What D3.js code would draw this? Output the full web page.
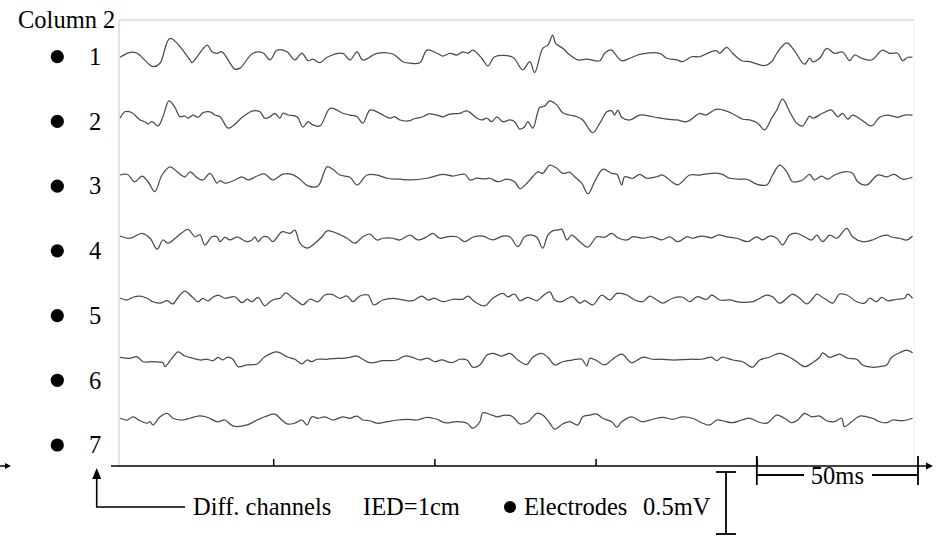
<!DOCTYPE html>
<html><head><meta charset="utf-8">
<script src="https://cdn.jsdelivr.net/npm/d3@7"></script>
<style>html,body{margin:0;padding:0;background:#fff}svg{display:block}text{font-family:"Liberation Serif","Times New Roman",serif;fill:#000}</style>
</head><body>
<svg id="chart" width="940" height="536"></svg>
<script>
// ---------- DATA ----------
const title = "Column 2";
const channels = [1, 2, 3, 4, 5, 6, 7];
const electrodes = [1, 2, 3, 4, 5, 6, 7];
const timeTicks = [50, 100, 150, 200];      // ms
const timeDomain = [0, 250];                // ms
const scaleBarTime = [200, 250];            // 50 ms
const scaleBarAmp = 500;                    // µV (0.5 mV)
const legendTexts = ["Diff. channels", "IED=1cm", "Electrodes", "0.5mV", "50ms"];
// each trace: [time ms, amplitude µV]
const trace1 = [[2.5,-2],[5.6,38],[7.8,30],[12.7,-78],[14.9,-50],[18.0,150],[24.2,-24],[24.8,-46],[29.5,96],[31.0,42],[32.6,30],[34.1,42],[38.1,-98],[39.7,-90],[43.7,30],[46.8,34],[49.0,-24],[51.2,56],[54.3,42],[56.7,-24],[58.9,32],[60.8,-30],[62.3,-18],[64.5,-46],[66.7,-2],[71.6,30],[73.8,-24],[76.0,42],[77.8,-24],[82.2,30],[87.1,24],[90.2,-38],[92.4,-50],[95.5,-46],[97.7,56],[100.8,30],[102.6,8],[104.8,30],[107.0,16],[108.8,42],[110.4,30],[111.9,56],[114.7,-10],[116.6,-72],[118.7,2],[124.3,-2],[127.4,-104],[129.6,-38],[131.1,-126],[133.6,70],[135.2,96],[136.7,176],[137.6,110],[139.8,70],[142.0,16],[144.5,-24],[147.3,-18],[151.3,-30],[152.8,30],[155.0,56],[155.9,30],[158.1,-30],[160.6,-10],[163.7,22],[169.9,30],[172.1,-10],[175.2,-24],[177.0,-38],[179.8,2],[182.3,2],[185.4,38],[187.6,50],[188.5,30],[190.7,78],[192.5,30],[195.3,-30],[197.8,-38],[200.0,-56],[202.4,-70],[204.6,-38],[206.5,42],[209.3,114],[211.7,50],[214.8,-58],[216.4,-10],[217.3,-38],[219.5,-10],[221.7,70],[224.1,30],[226.6,40],[228.8,-30],[230.3,16],[232.5,-10],[235.6,-24],[239.0,56],[241.2,30],[243.7,30],[245.2,-30],[246.8,-2],[248.3,-2]];
const trace2 = [[2.5,-6],[4.0,46],[6.2,38],[8.7,-20],[10.2,-34],[11.2,-52],[12.4,-34],[14.3,-68],[15.8,6],[17.7,134],[19.5,82],[21.1,6],[22.6,12],[23.6,-6],[25.1,20],[26.7,2],[28.2,38],[30.4,46],[31.9,20],[33.5,6],[36.0,-86],[37.5,-68],[40.6,6],[43.7,54],[45.9,46],[47.4,-6],[49.0,6],[50.5,34],[52.1,-6],[53.0,34],[54.6,20],[57.4,6],[59.2,-78],[60.8,-34],[62.3,-60],[64.5,-68],[67.6,74],[69.8,60],[71.6,34],[73.8,20],[76.0,6],[77.8,-46],[80.0,60],[82.2,46],[84.0,20],[86.2,-6],[87.7,6],[89.3,-20],[92.4,-26],[93.3,-14],[96.4,6],[98.0,28],[100.8,20],[102.6,6],[104.8,28],[107.9,34],[110.1,54],[113.2,-6],[114.7,-20],[116.3,-6],[117.8,-34],[119.4,6],[121.2,-34],[123.4,-20],[124.9,-34],[126.5,-94],[128.0,-74],[129.0,-34],[130.5,-86],[132.7,82],[134.2,92],[135.8,134],[138.0,100],[139.8,38],[142.0,20],[144.2,6],[146.0,-20],[149.1,-122],[151.3,-46],[153.5,46],[155.0,54],[155.9,20],[156.9,60],[158.1,2],[160.6,-20],[163.7,20],[167.7,6],[172.1,-14],[175.2,-20],[178.3,-34],[180.7,6],[182.3,34],[184.2,20],[187.3,66],[190.4,54],[193.2,20],[195.7,-14],[197.8,-20],[200.3,-46],[202.4,-100],[204.6,-6],[206.2,60],[208.0,148],[210.2,46],[212.4,-46],[214.2,-68],[216.4,12],[217.3,-6],[220.4,34],[223.2,60],[225.1,6],[226.6,34],[228.2,-14],[229.7,20],[232.5,-20],[235.6,-68],[238.1,2],[240.6,20],[243.7,2],[245.8,20],[248.3,20]];
const trace3 = [[2.5,24],[4.7,30],[7.1,-30],[9.3,16],[11.2,-30],[13.3,-110],[15.5,24],[18.0,90],[20.2,50],[22.6,10],[24.2,50],[26.4,2],[28.2,-16],[30.4,38],[32.6,-42],[33.5,-22],[35.0,-42],[38.1,-16],[40.3,10],[42.2,-16],[45.0,16],[47.4,32],[49.9,-16],[53.0,32],[55.8,30],[58.3,-10],[60.8,-64],[63.9,-64],[66.7,90],[68.5,70],[70.7,24],[73.8,6],[76.0,-56],[79.1,24],[82.2,24],[85.3,-2],[89.3,-10],[92.4,-16],[97.7,-2],[102.6,30],[105.7,16],[109.4,30],[111.0,-16],[113.2,-2],[115.6,-8],[117.2,-2],[119.7,-30],[122.5,-10],[124.9,-30],[126.5,-86],[128.7,-42],[130.5,10],[132.1,50],[133.6,38],[135.8,104],[138.0,78],[139.8,38],[142.0,46],[143.5,10],[145.7,-42],[147.6,-128],[149.7,-30],[152.2,70],[155.0,38],[156.6,30],[158.1,-56],[159.0,10],[161.5,-2],[163.7,30],[165.9,-2],[169.0,10],[170.8,24],[173.6,-30],[175.5,-56],[179.2,24],[182.3,24],[186.0,38],[189.1,32],[191.6,-2],[194.7,-10],[196.9,-10],[200.0,-50],[203.1,-56],[204.9,24],[207.1,104],[209.3,50],[211.1,-30],[214.2,-16],[216.4,30],[217.9,-16],[220.1,16],[222.0,-10],[224.1,24],[227.2,50],[229.7,38],[231.3,-30],[234.1,-56],[237.5,24],[240.3,10],[242.7,30],[245.2,-10],[248.3,6]];
const trace4 = [[2.5,20],[5.6,2],[9.3,42],[11.8,2],[14.0,-86],[15.8,-12],[17.4,-38],[20.2,14],[23.6,74],[25.7,14],[27.3,28],[28.8,-52],[31.0,14],[32.6,14],[33.5,-26],[35.0,10],[36.6,-12],[38.8,14],[40.3,-6],[41.9,-26],[43.4,-12],[44.3,14],[45.3,-26],[46.8,14],[48.4,10],[49.9,-26],[52.7,54],[55.2,42],[56.7,68],[58.3,-38],[60.5,-78],[62.3,-52],[65.1,14],[66.7,62],[69.8,42],[72.9,2],[75.3,-38],[77.8,14],[80.0,36],[82.2,-12],[84.0,2],[87.1,2],[89.3,-12],[92.4,28],[94.9,-12],[97.7,14],[99.5,42],[101.7,2],[103.9,14],[107.0,14],[109.4,-26],[111.9,10],[115.0,20],[118.1,-12],[121.2,20],[123.4,14],[125.9,-66],[128.0,14],[130.2,28],[131.8,10],[133.6,-78],[135.2,28],[136.7,62],[138.3,68],[139.5,74],[141.1,-12],[142.6,28],[145.1,-26],[147.6,-70],[150.4,14],[152.8,10],[155.0,42],[156.9,6],[159.7,-12],[161.5,14],[164.6,2],[167.7,14],[170.5,-12],[173.0,14],[175.5,-26],[178.3,14],[180.1,2],[182.9,20],[186.0,6],[187.9,28],[190.7,14],[193.8,2],[197.2,-26],[200.0,14],[201.8,-12],[204.0,20],[206.2,2],[208.0,-52],[210.2,28],[212.4,42],[214.8,14],[217.0,-12],[218.6,28],[220.4,-26],[222.6,28],[224.8,2],[227.9,82],[229.7,14],[232.8,-26],[235.9,-12],[238.1,14],[240.3,28],[242.1,10],[244.3,2],[246.5,-12],[248.3,20]];
const trace5 = [[2.5,6],[4.7,-8],[6.5,14],[8.7,24],[10.9,6],[12.7,-22],[14.9,-34],[17.1,-14],[18.9,-40],[20.5,14],[22.6,64],[24.8,18],[26.7,-22],[28.2,6],[29.8,-16],[31.3,14],[32.9,32],[35.0,6],[38.1,18],[40.3,-30],[41.9,-2],[43.4,-22],[45.3,14],[47.4,-56],[49.0,-22],[50.5,-2],[52.1,6],[53.9,50],[55.8,14],[57.7,-22],[59.2,-48],[61.4,-2],[63.9,-22],[66.0,32],[68.2,38],[70.7,6],[72.9,24],[74.7,-22],[76.9,24],[79.4,32],[81.2,-48],[84.0,-8],[87.1,6],[90.2,-8],[93.3,-14],[96.1,24],[98.0,-8],[100.1,6],[102.6,-22],[105.7,-2],[108.8,-2],[110.4,24],[112.5,-22],[115.6,-56],[118.1,6],[121.2,46],[122.8,18],[124.9,40],[126.5,-14],[129.0,14],[131.8,-14],[133.6,24],[135.8,58],[137.3,-8],[139.5,-22],[141.4,6],[142.9,18],[145.1,-34],[146.6,-14],[149.1,-48],[151.9,32],[154.4,-8],[156.6,46],[159.7,32],[162.1,-8],[164.6,-22],[166.8,24],[169.0,-8],[170.8,-34],[173.9,6],[177.0,14],[179.2,-22],[181.4,18],[184.5,-2],[186.0,32],[188.5,-8],[191.6,-8],[194.7,-26],[198.7,-22],[203.1,32],[204.9,18],[207.1,-34],[209.3,6],[211.1,40],[213.3,6],[215.5,-40],[217.0,-8],[218.6,40],[220.1,18],[221.7,-8],[223.5,-34],[225.7,40],[227.9,32],[231.0,-22],[233.4,-34],[235.0,6],[237.2,-22],[238.7,14],[240.6,-14],[243.4,-2],[245.8,6],[246.8,40],[248.3,6]];
const trace6 = [[2.5,18],[5.6,10],[7.8,22],[9.6,-18],[12.7,-18],[15.8,-26],[16.4,-58],[18.6,10],[20.5,62],[22.6,28],[25.1,10],[27.3,-4],[29.5,2],[31.3,-10],[32.9,18],[34.4,-4],[35.7,18],[37.5,2],[39.1,-58],[41.9,-44],[45.0,-36],[47.4,22],[51.2,62],[54.3,22],[56.7,2],[58.9,-36],[60.5,-4],[62.0,-18],[63.6,2],[66.7,2],[69.8,10],[71.6,10],[73.8,18],[76.0,28],[77.8,2],[80.0,-26],[84.0,-10],[88.4,-4],[90.2,22],[91.8,28],[93.9,10],[95.5,-4],[98.0,10],[100.1,-18],[102.3,-4],[105.4,-26],[107.9,2],[110.1,-4],[111.9,-62],[114.1,-44],[116.3,36],[118.1,50],[120.9,28],[123.4,50],[125.9,-4],[128.7,-40],[130.5,18],[133.3,50],[135.2,18],[137.3,-44],[139.8,-18],[142.9,-4],[145.7,2],[147.3,-52],[148.2,10],[150.4,-10],[152.8,-44],[155.0,-4],[158.1,44],[161.2,-26],[164.6,18],[167.7,2],[170.8,2],[173.9,-4],[179.2,2],[182.9,2],[186.0,18],[187.6,-10],[189.1,18],[192.5,-4],[195.6,-18],[198.7,-62],[200.9,-4],[203.9,18],[207.1,50],[210.2,18],[212.4,-18],[214.8,-58],[217.3,-26],[219.5,18],[220.4,54],[222.6,18],[225.7,44],[228.2,10],[231.0,2],[232.8,-44],[235.6,-62],[238.1,-58],[240.3,-44],[241.8,18],[244.3,54],[246.5,76],[248.3,54]];
const trace7 = [[2.5,14],[4.7,0],[6.5,26],[8.7,-6],[10.9,-26],[11.8,-14],[12.7,-40],[14.9,26],[17.1,54],[18.9,14],[21.7,0],[24.2,14],[26.7,32],[29.5,22],[32.6,-14],[35.0,0],[37.5,-48],[41.9,-40],[45.0,0],[47.4,26],[50.5,48],[52.1,14],[54.3,-32],[56.7,-26],[58.9,0],[60.5,-40],[62.0,26],[63.9,14],[66.0,26],[68.5,0],[71.6,26],[73.8,14],[76.0,32],[77.8,0],[80.0,-6],[82.2,-26],[85.3,-14],[88.4,0],[91.5,6],[94.6,0],[97.7,22],[100.8,6],[103.2,-22],[107.0,-14],[110.1,-26],[111.9,-66],[114.1,-14],[115.0,58],[117.8,40],[119.7,26],[121.8,40],[124.3,26],[126.5,-32],[129.0,-14],[131.8,54],[133.6,40],[135.8,-26],[137.3,-74],[139.8,-32],[142.0,-14],[144.5,-40],[146.0,26],[148.2,40],[150.4,48],[152.2,14],[155.0,-14],[156.6,-58],[158.1,-14],[161.2,26],[164.3,-14],[167.7,6],[170.8,22],[173.9,6],[177.0,26],[180.1,14],[183.2,-26],[185.4,-40],[187.6,0],[189.4,-6],[192.5,-22],[195.3,0],[197.8,14],[200.3,-14],[203.1,-26],[206.2,40],[208.6,14],[210.8,-22],[212.7,0],[214.8,54],[217.0,26],[219.5,32],[221.7,-6],[224.1,-14],[226.3,14],[227.2,-54],[229.4,-14],[231.9,32],[234.1,26],[235.9,14],[238.1,-14],[240.3,-22],[242.1,0],[245.2,-6],[248.3,14]];
const traces = [trace1, trace2, trace3, trace4, trace5, trace6, trace7];

// ---------- LAYOUT ----------
const svg = d3.select("#chart");
const FONT = 24.5;
const x = d3.scaleLinear().domain(timeDomain).range([112, 918]);
const chanY = d3.scaleLinear().domain([1, 7]).range([57, 420]);
const elecY = d3.scaleLinear().domain([1, 7]).range([56.7, 445]);
const amp = d3.scaleLinear().domain([-scaleBarAmp, scaleBarAmp]).range([62, -62]); // offset px
const axisY = 466;
const frameLeft = 119, frameRight = 914, frameTop = 20;

// frame
svg.append("line").attr("x1", frameLeft).attr("x2", frameRight).attr("y1", frameTop).attr("y2", frameTop)
  .attr("stroke", "#c8c8c8").attr("stroke-width", 1);
svg.append("line").attr("x1", frameLeft).attr("x2", frameLeft).attr("y1", frameTop).attr("y2", axisY)
  .attr("stroke", "#c8c8c8").attr("stroke-width", 1);
svg.append("line").attr("x1", frameRight).attr("x2", frameRight).attr("y1", frameTop).attr("y2", axisY)
  .attr("stroke", "#efefef").attr("stroke-width", 1);

// traces
const g = svg.append("g");
traces.forEach((tr, i) => {
  const base = chanY(channels[i]);
  const line = d3.line().x(d => x(d[0])).y(d => base + amp(d[1])).curve(d3.curveCatmullRom.alpha(0.5));
  g.append("path").attr("d", line(tr)).attr("fill", "none")
    .attr("stroke", "#4a4a4a").attr("stroke-width", 1.25).attr("stroke-linejoin", "round");
});

// title
svg.append("text").attr("x", 18).attr("y", 27.5).attr("font-size", FONT).text(title);

// electrodes
electrodes.forEach(e => {
  svg.append("circle").attr("cx", 57.3).attr("cy", elecY(e)).attr("r", 6.6).attr("fill", "#000");
  svg.append("text").attr("x", 95).attr("y", elecY(e) + 8.3).attr("text-anchor", "middle")
    .attr("font-size", FONT).text(e);
});

// x axis
const axis = d3.axisBottom(x).tickValues(timeTicks).tickSize(-7).tickFormat("");
const ag = svg.append("g").attr("transform", `translate(0,${axisY})`).call(axis);
ag.select(".domain").remove();
ag.selectAll(".tick line").attr("stroke", "#000").attr("stroke-width", 1.5);
svg.append("line").attr("x1", 111).attr("x2", 929).attr("y1", axisY).attr("y2", axisY)
  .attr("stroke", "#000").attr("stroke-width", 1.6);
svg.append("path").attr("d", `M933,${axisY} L926,${axisY - 3.5} L926,${axisY + 3.5} Z`).attr("fill", "#000");
// left small arrow
svg.append("line").attr("x1", 0).attr("x2", 7).attr("y1", axisY).attr("y2", axisY)
  .attr("stroke", "#000").attr("stroke-width", 1.5);
svg.append("path").attr("d", `M11,${axisY} L5,${axisY - 3} L5,${axisY + 3} Z`).attr("fill", "#000");

// 50 ms scale bar
const sx0 = x(scaleBarTime[0]), sx1 = x(scaleBarTime[1]);
[sx0, sx1].forEach(sx => {
  svg.append("line").attr("x1", sx).attr("x2", sx).attr("y1", 456).attr("y2", 485)
    .attr("stroke", "#000").attr("stroke-width", 1.8);
});
svg.append("line").attr("x1", sx0).attr("x2", 804).attr("y1", 475).attr("y2", 475).attr("stroke", "#000").attr("stroke-width", 1.8);
svg.append("line").attr("x1", 872).attr("x2", sx1).attr("y1", 475).attr("y2", 475).attr("stroke", "#000").attr("stroke-width", 1.8);
svg.append("text").attr("x", (sx0 + sx1) / 2).attr("y", 484).attr("text-anchor", "middle")
  .attr("font-size", FONT).text(legendTexts[4]);

// 0.5 mV scale bar
const ay0 = 472, ay1 = ay0 + (amp(0) - amp(scaleBarAmp));
svg.append("line").attr("x1", 726).attr("x2", 726).attr("y1", ay0).attr("y2", ay1).attr("stroke", "#000").attr("stroke-width", 1.8);
[ay0, ay1].forEach(yy => svg.append("line").attr("x1", 716).attr("x2", 736).attr("y1", yy).attr("y2", yy)
  .attr("stroke", "#000").attr("stroke-width", 1.8));

// diff channels bracket arrow
svg.append("path").attr("d", "M96.7,477 L96.7,507 L185,507").attr("fill", "none").attr("stroke", "#000").attr("stroke-width", 1.6);
svg.append("path").attr("d", "M96.7,468 L92.2,479 L101.2,479 Z").attr("fill", "#000");

// bottom legend texts
svg.append("text").attr("x", 193).attr("y", 514.5).attr("font-size", FONT).text(legendTexts[0]);
svg.append("text").attr("x", 363).attr("y", 514.5).attr("font-size", FONT).text(legendTexts[1]);
svg.append("circle").attr("cx", 510).attr("cy", 507).attr("r", 6).attr("fill", "#000");
svg.append("text").attr("x", 524).attr("y", 514.5).attr("font-size", FONT).text(legendTexts[2]);
svg.append("text").attr("x", 643).attr("y", 514.5).attr("font-size", FONT).text(legendTexts[3]);
</script>
</body></html>
